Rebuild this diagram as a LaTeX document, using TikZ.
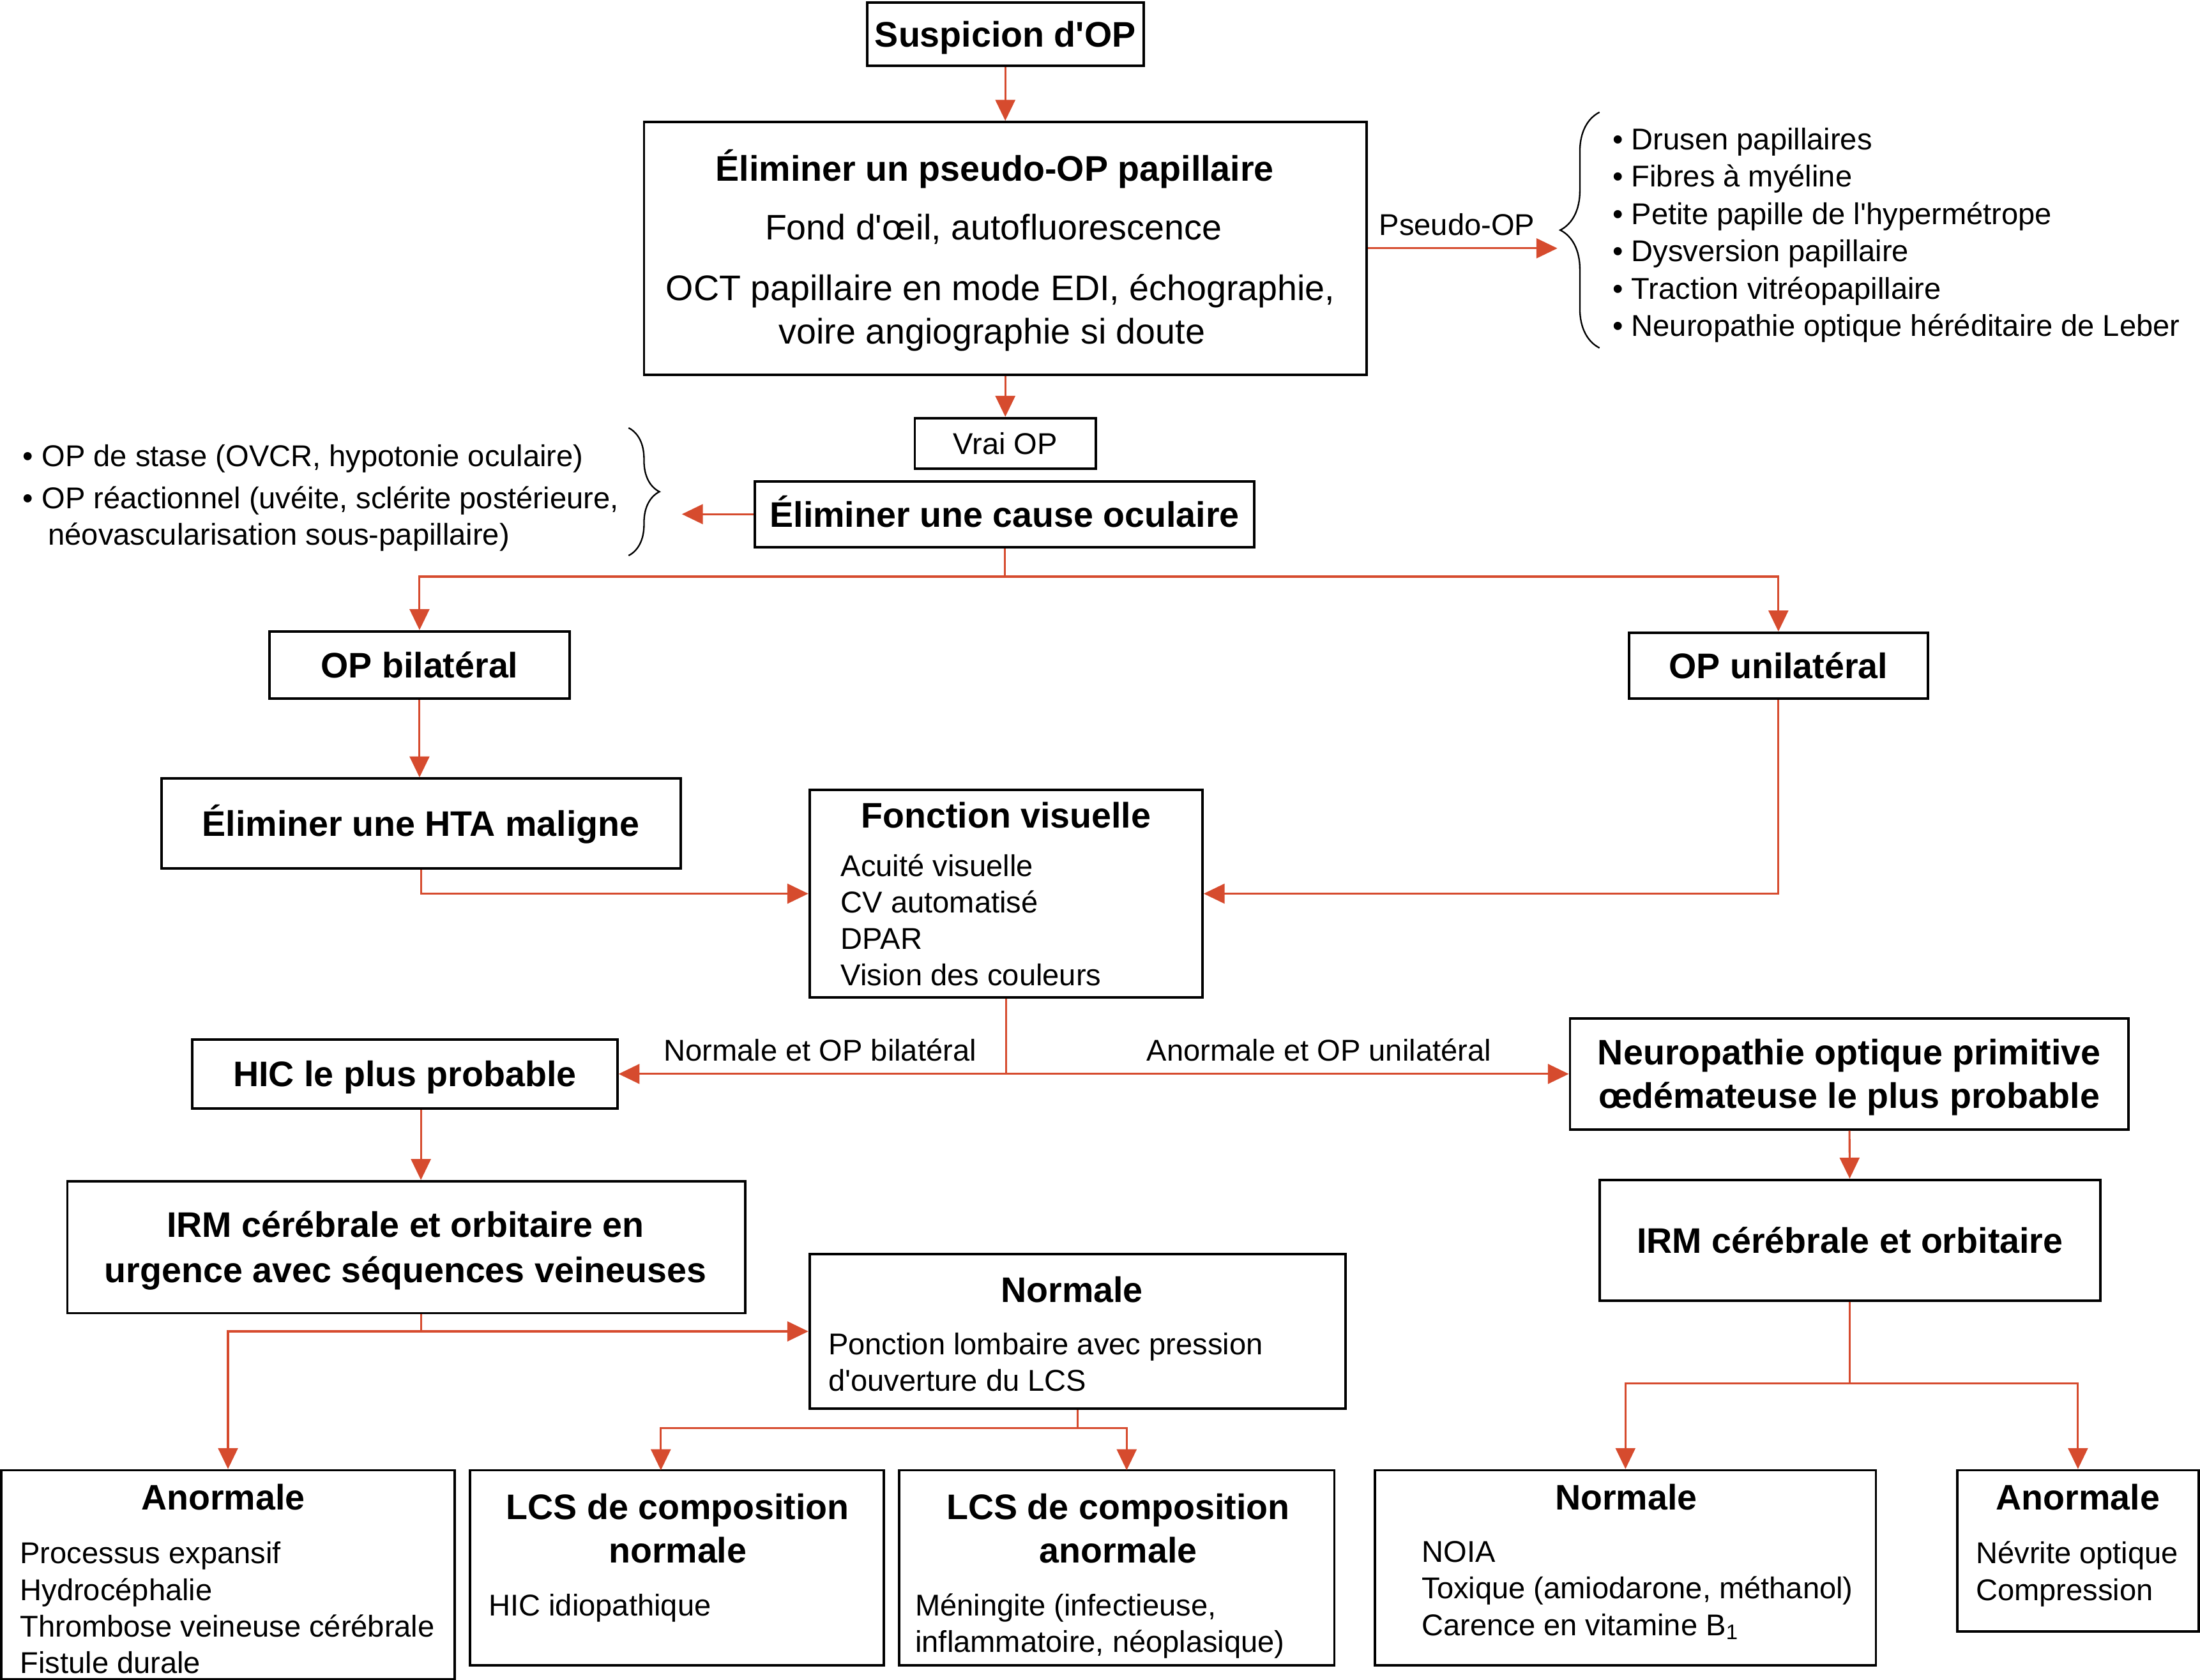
\documentclass[tikz,border=0pt]{standalone}
\usepackage{fontspec}
\setmainfont{Liberation Sans}
\usetikzlibrary{arrows.meta,decorations.pathreplacing}
\definecolor{rouge}{RGB}{214,75,46}
\newcommand{\apo}{\textquotesingle}

\begin{document}
\begin{tikzpicture}[x=0.02cm,y=-0.02cm,
  titre/.style={inner sep=0pt,font=\bfseries\fontsize{14.4}{17.6}\selectfont,text height=10.3pt,text depth=0pt},
  corps/.style={inner sep=0pt,anchor=west,font=\fontsize{12.2}{15}\selectfont,text height=8.7pt,text depth=0pt},
  grand/.style={inner sep=0pt,font=\fontsize{14.4}{17.6}\selectfont,text height=10.3pt,text depth=0pt},
  etiquette/.style={inner sep=0pt,font=\fontsize{12.2}{15}\selectfont,text height=8.7pt,text depth=0pt,above=5pt},
  boite/.style={titre,draw,line width=1pt},
  taille/.style 2 args={minimum width=#1*0.02cm,minimum height=#2*0.02cm},
  trait/.style={draw=rouge,line width=0.8pt},
  fleche/.style={trait,-{Triangle[length=8.5pt,width=8pt]}},
  accolade/.style={decorate,decoration={brace,amplitude=#1},line width=0.6pt}]
\useasboundingbox (0,0) rectangle (1568,1197.5);

\node[boite,taille={197}{45}]  (susp)  at (716.5,24.5) {Suspicion d\apo OP};
\node[boite,taille={515}{180}] (pseudo) at (716.5,177) {};
\node[boite,taille={129}{36},font=\fontsize{12.2}{15}\selectfont,text height=8.7pt] (vrai) at (716.5,316) {Vrai OP};
\node[boite,taille={356}{47}]  (cause) at (716,366.5) {Éliminer une cause oculaire};
\node[boite,taille={214}{48}]  (opb)   at (299,474)   {OP bilatéral};
\node[boite,taille={213}{47}]  (opu)   at (1267.5,474.5) {OP unilatéral};
\node[boite,taille={370}{64}]  (hta)   at (300,587)   {Éliminer une HTA maligne};
\node[boite,taille={280}{148}] (fv)    at (717,637)   {};
\node[boite,taille={303}{49}]  (hic)   at (288.5,765.5) {HIC le plus probable};
\node[boite,taille={398}{79}]  (neuro) at (1318,765.5) {};
\node[boite,taille={483}{94}]  (irm1)  at (289.5,889) {};
\node[boite,taille={357}{86}]  (irm2)  at (1318.5,884) {IRM cérébrale et orbitaire};
\node[boite,taille={382}{110}] (norm1) at (768,949)   {};
\node[boite,taille={323}{149}] (anor1) at (162.5,1122.5) {};
\node[boite,taille={295}{139}] (lcsn)  at (482.5,1117.5) {};
\node[boite,taille={310}{139}] (lcsa)  at (796,1117.5) {};
\node[boite,taille={357}{139}] (norm2) at (1158.5,1117.5) {};
\node[boite,taille={172}{115}] (anor2) at (1481,1105.5) {};

\node[titre] (pseudo-t) at (709,120) {Éliminer un pseudo-OP papillaire};
\node[grand] (pseudo-a) at (708,162) {Fond d\apo œil, autofluorescence};
\node[grand] (pseudo-b) at (713,205) {OCT papillaire en mode EDI, échographie,};
\node[grand] (pseudo-c) at (707,236) {voire angiographie si doute};

\node[titre] (fv-t) at (717,581) {Fonction visuelle};
\foreach \t [count=\i from 0] in {Acuité visuelle, CV automatisé, DPAR, Vision des couleurs}
  \node[corps] (fv\i) at (599,617+26*\i) {\t};

\node[titre] (neuro-a) at (1318,750) {Neuropathie optique primitive};
\node[titre] (neuro-b) at (1318,781) {œdémateuse le plus probable};
\node[titre] (irm1-a) at (289,873) {IRM cérébrale et orbitaire en};
\node[titre] (irm1-b) at (289,905) {urgence avec séquences veineuses};

\node[titre] (norm1-t) at (764,919) {Normale};
\node[corps] (norm1-a) at (590,958) {Ponction lombaire avec pression};
\node[corps] (norm1-b) at (590,984) {d\apo ouverture du LCS};

\node[titre] (anor1-t) at (159,1067) {Anormale};
\foreach \t [count=\i from 0] in {Processus expansif, Hydrocéphalie, Thrombose veineuse cérébrale, Fistule durale}
  \node[corps] (anor1\i) at (14,1107+26*\i) {\t};

\node[titre] (lcsn-a) at (483,1074) {LCS de composition};
\node[titre] (lcsn-b) at (483,1105) {normale};
\node[corps] (lcsn-c) at (348,1144) {HIC idiopathique};

\node[titre] (lcsa-a) at (797,1074) {LCS de composition};
\node[titre] (lcsa-b) at (797,1105) {anormale};
\node[corps] (lcsa-c) at (652,1144) {Méningite (infectieuse,};
\node[corps] (lcsa-d) at (652,1170) {inflammatoire, néoplasique)};

\node[titre] (norm2-t) at (1159,1067) {Normale};
\foreach \t [count=\i from 0] in {NOIA, {Toxique (amiodarone, méthanol)}, Carence en vitamine B\textsubscript{1}}
  \node[corps] (norm2\i) at (1013,1106+26*\i) {\t};

\node[titre] (anor2-t) at (1481,1067) {Anormale};
\node[corps] (anor2-a) at (1408,1107) {Névrite optique};
\node[corps] (anor2-b) at (1408,1133) {Compression};

\foreach \t [count=\i from 0] in {Drusen papillaires, Fibres à myéline, Petite papille de l\apo hypermétrope, Dysversion papillaire, Traction vitréopapillaire, Neuropathie optique héréditaire de Leber}
  \node[corps] (pso\i) at (1149,99+26.6*\i) {\textbullet\ \t};
\draw[accolade=0.56cm] (1140,248) -- (1140,80);

\node[corps] (oc0) at (16,325) {\textbullet\ OP de stase (OVCR, hypotonie oculaire)};
\node[corps] (oc1) at (16,355) {\textbullet\ OP réactionnel (uvéite, sclérite postérieure,};
\node[corps] (oc2) at (34,381) {néovascularisation sous-papillaire)};
\draw[accolade=0.44cm] (448,305) -- (448,396);

\coordinate (pseudo-fin) at (1110,177);
\coordinate (cause-fin) at (486,366.5);
\coordinate (j1) at (716,411);
\coordinate (j2) at (717,765.5);
\coordinate (j3) at (300,949);
\coordinate (j4) at (768,1018);
\coordinate (j5) at (1318.5,986);
\coordinate (lcsn-h) at (471,1048);
\coordinate (lcsa-h) at (803,1048);

\draw[fleche] (susp) -- (pseudo);
\draw[fleche] (pseudo) -- (vrai);
\draw[fleche] (pseudo.east) -- node[etiquette,pos=0.47] (l-pseudo) {Pseudo-OP} (pseudo-fin);
\draw[fleche] (cause.west) -- (cause-fin);
\draw[trait] (cause) -- (j1);
\draw[fleche] (j1) -| (opb);
\draw[fleche] (j1) -| (opu);
\draw[fleche] (opb.south) -- (opb.south |- hta.north);
\draw[fleche] (hta.south) |- (fv.west);
\draw[fleche] (opu.south) |- (fv.east);
\draw[trait] (fv) -- (j2);
\draw[fleche] (j2) -- node[etiquette,pos=0.48] (l-bil) {Normale et OP bilatéral} (hic);
\draw[fleche] (j2) -- node[etiquette,pos=0.556] (l-uni) {Anormale et OP unilatéral} (neuro);
\draw[fleche] (hic.south -| hta.south) -- (irm1.north -| hta.south);
\draw[fleche] (neuro) -- (irm2);
\draw[trait] (irm1.south -| hta.south) -- (j3);
\draw[fleche] (j3) -- (norm1);
\draw[fleche] (j3) -| (anor1);
\draw[trait] (norm1) -- (j4);
\draw[fleche] (j4) -| (lcsn-h);
\draw[fleche] (j4) -| (lcsa-h);
\draw[trait] (irm2) -- (j5);
\draw[fleche] (j5) -| (norm2);
\draw[fleche] (j5) -| (anor2);
\end{tikzpicture}
\end{document}
